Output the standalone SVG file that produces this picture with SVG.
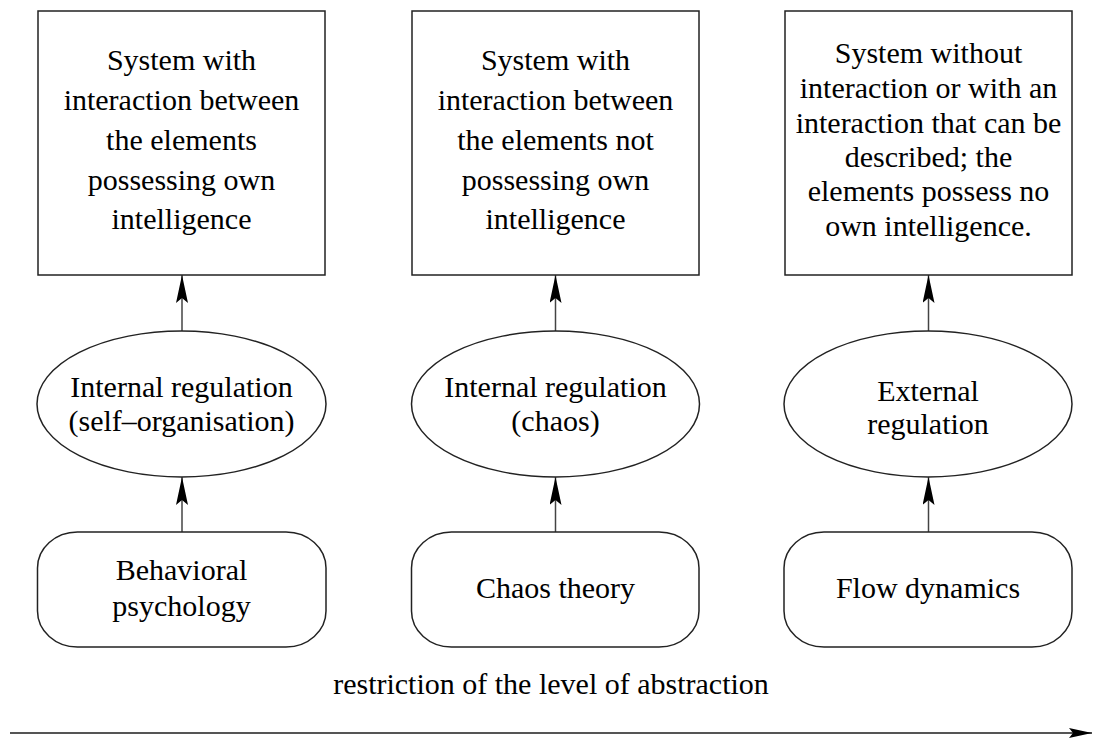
<svg xmlns="http://www.w3.org/2000/svg" width="1093" height="738" viewBox="0 0 1093 738">
<style>
.box{fill:#fff;stroke:#222;stroke-width:1.5}
.conn{fill:none;stroke:#444;stroke-width:1.5}
.axis{fill:none;stroke:#555;stroke-width:2}
text{font-family:"Liberation Serif","Times New Roman",serif;font-size:30px;fill:#000;text-anchor:middle}
</style>
<defs>
<marker id="ah" markerUnits="userSpaceOnUse" viewBox="0 0 28 12" refX="28" refY="6" markerWidth="28" markerHeight="12" orient="auto">
<path d="M0,0 L28,6 L0,12 L5,6 Z" fill="#000"/>
</marker>
<marker id="ahBig" markerUnits="userSpaceOnUse" viewBox="0 0 23 10" refX="23" refY="5" markerWidth="23" markerHeight="10" orient="auto">
<path d="M0,0 L23,5 L0,10 L4,5 Z" fill="#000"/>
</marker>
</defs>
<rect width="1093" height="738" fill="#fff"/>
<g id="connectors">
<line class="conn" x1="182" y1="331" x2="182" y2="275" marker-end="url(#ah)"/>
<line class="conn" x1="555.5" y1="331" x2="555.5" y2="275" marker-end="url(#ah)"/>
<line class="conn" x1="928.5" y1="331" x2="928.5" y2="275" marker-end="url(#ah)"/>
<line class="conn" x1="182" y1="532" x2="182" y2="477" marker-end="url(#ah)"/>
<line class="conn" x1="555.5" y1="532" x2="555.5" y2="477" marker-end="url(#ah)"/>
<line class="conn" x1="928.5" y1="532" x2="928.5" y2="477" marker-end="url(#ah)"/>
<line class="axis" x1="10" y1="733" x2="1092" y2="733" marker-end="url(#ahBig)"/>
</g>
<g id="box1">
<rect class="box" x="38" y="11" width="287" height="264"/>
<text x="181.5" y="70">System with</text>
<text x="181.5" y="110">interaction between</text>
<text x="181.5" y="150">the elements</text>
<text x="181.5" y="189.5">possessing own</text>
<text x="181.5" y="229">intelligence</text>
</g>
<g id="box2">
<rect class="box" x="412" y="11" width="287" height="264"/>
<text x="555.5" y="70">System with</text>
<text x="555.5" y="110">interaction between</text>
<text x="555.5" y="150">the elements not</text>
<text x="555.5" y="189.5">possessing own</text>
<text x="555.5" y="229">intelligence</text>
</g>
<g id="box3">
<rect class="box" x="785" y="11" width="287" height="264"/>
<text x="928.5" y="63">System without</text>
<text x="928.5" y="97.5">interaction or with an</text>
<text x="928.5" y="132.5">interaction that can be</text>
<text x="928.5" y="167">described; the</text>
<text x="928.5" y="201">elements possess no</text>
<text x="928.5" y="235.5">own intelligence.</text>
</g>
<g id="ellipse1">
<ellipse class="box" cx="181.5" cy="404" rx="144.5" ry="73"/>
<text x="181.5" y="396.5">Internal regulation</text>
<text x="181.5" y="431">(self–organisation)</text>
</g>
<g id="ellipse2">
<ellipse class="box" cx="555.5" cy="404" rx="144" ry="73"/>
<text x="555.5" y="396.5">Internal regulation</text>
<text x="555.5" y="430.5">(chaos)</text>
</g>
<g id="ellipse3">
<ellipse class="box" cx="928" cy="404" rx="144" ry="73"/>
<text x="928" y="401">External</text>
<text x="928" y="433.5">regulation</text>
</g>
<g id="rrect1">
<rect class="box" x="37.5" y="532" width="288.5" height="115" rx="40" ry="36"/>
<text x="181.5" y="580">Behavioral</text>
<text x="181.5" y="616">psychology</text>
</g>
<g id="rrect2">
<rect class="box" x="411.5" y="532" width="287.5" height="115" rx="40" ry="36"/>
<text x="555.5" y="598">Chaos theory</text>
</g>
<g id="rrect3">
<rect class="box" x="784" y="532" width="288" height="115" rx="40" ry="36"/>
<text x="928" y="598">Flow dynamics</text>
</g>
<g id="axis-label">
<text x="551" y="694">restriction of the level of abstraction</text>
</g>
</svg>
